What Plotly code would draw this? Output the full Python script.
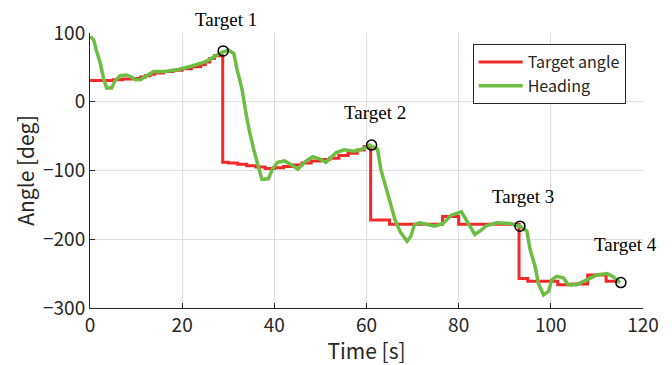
import plotly.graph_objects as go

# ---- data ----
red_t = [0, 5, 7, 9, 11, 12, 13, 14, 16, 18, 20, 22, 24, 25, 26, 27, 28.8, 30, 32, 34, 36, 38, 40,
         42, 44, 46, 48, 50, 52, 54, 56, 58, 59.5, 60.9, 65, 76.5, 80, 93.1, 95, 101.5, 104.5,
         108, 112, 115]
red_v = [31, 32, 33, 34, 36, 38, 40, 42, 44, 46, 48, 51, 54, 58, 63, 67, -88, -89, -91, -93, -95,
         -97, -96, -94, -92, -89, -86, -84, -82, -78, -75, -70, -65, -172, -178, -167, -178,
         -257, -261, -266, -265, -252, -261, -261]

green_t = [0, 0.8, 1.4, 2.2, 2.9, 3.6, 4.7, 5.4, 6.5, 7.9, 9, 9.8, 10.9, 12.3, 13.8, 16.3, 19.2,
           22.1, 25, 27.1, 28.6, 30.1, 31.2, 31.9, 33, 33.7, 34.5, 35.5, 36.6, 37.3, 38.7, 39.6,
           40.7, 42.2, 43.3, 45.1, 46.5, 48.3, 49.8, 51.2, 53.4, 55.2, 57.3, 59.5, 60.6, 62.4,
           63.1, 64.4, 65.1, 66.2, 67.3, 68.8, 69.6, 70.4, 71.5, 73, 74.8, 76.6, 78.4, 80.6,
           81.7, 83.5, 84.6, 86.1, 88.3, 91.1, 93.3, 94.8, 95.5, 96.6, 97.3, 98.4, 99.5, 100.2,
           101.3, 102.7, 103.8, 105.6, 107.8, 110, 112.2, 113.6, 115]
green_v = [95, 90, 74, 57, 35, 20, 20, 30, 38, 39, 36, 32, 32, 38, 44, 44, 47, 52, 58, 66, 72, 75,
           70, 47, 18, -11, -40, -69, -98, -113, -112, -98, -88, -86, -90, -98, -88, -80, -83,
           -88, -74, -70, -72, -68, -63, -69, -98, -128, -145, -172, -189, -203, -196, -179,
           -176, -178, -181, -177, -165, -160, -172, -193, -188, -180, -176, -177, -181, -188,
           -215, -240, -264, -281, -276, -259, -254, -256, -266, -266, -259, -252, -250, -255,
           -263]

target_t = [28.9, 61.1, 93.3, 115.2]
target_v = [74, -63, -181, -263]
target_labels = ["Target 1", "Target 2", "Target 3", "Target 4"]
label_t = [29.5, 61.8, 94.0, 116.2]
label_v = [119, -15, -138, -208]

x_ticks = [0, 20, 40, 60, 80, 100, 120]
y_ticks = [100, 0, -100, -200, -300]
y_ticktext = ["100", "0", "\u2212100", "\u2212200", "\u2212300"]
Y_MIN, Y_MAX = -300, 100

TXT = "#262626"
FONT = "Noto Sans CJK JP"

fig = go.Figure()
fig.add_trace(go.Scatter(x=red_t, y=red_v, mode="lines", line=dict(color="#f02a2a", width=3, shape="hv"),
                         name="Target angle"))
fig.add_trace(go.Scatter(x=green_t, y=green_v, mode="lines", line=dict(color="#6cbd42", width=3.5),
                         name="Heading"))
fig.add_trace(go.Scatter(x=target_t, y=target_v, mode="markers", showlegend=False, cliponaxis=False,
                         marker=dict(symbol="circle-open", size=10, color="black", line=dict(width=1.5))))

for t, v, s in zip(label_t, label_v, target_labels):
    fig.add_annotation(x=t, xref="x", y=(v - Y_MIN) / (Y_MAX - Y_MIN), yref="paper", text=s,
                       xanchor="center", yanchor="middle",
                       showarrow=False, font=dict(family="Liberation Serif", size=19, color="black"))

fig.update_layout(
    width=672, height=365,
    margin=dict(l=90, r=29, t=33, b=57),
    paper_bgcolor="white", plot_bgcolor="white",
    font=dict(family=FONT, color=TXT, size=17),
    legend=dict(x=0.692, y=0.96, xanchor="left", yanchor="top", bgcolor="white",
                bordercolor=TXT, borderwidth=1, font=dict(size=16, family=FONT, color=TXT),
                tracegroupgap=0, itemwidth=44),
    showlegend=True,
)
fig.update_xaxes(range=[0, 120], tickvals=x_ticks, showgrid=True, gridcolor="#dedede", gridwidth=1,
                 zeroline=False, showline=True, linecolor=TXT, linewidth=1, ticks="inside",
                 ticklen=5, tickcolor=TXT, tickfont=dict(size=19, family=FONT, color=TXT),
                 title=dict(text="Time [s]", font=dict(size=21, family=FONT, color=TXT), standoff=2))
fig.update_yaxes(range=[Y_MIN, Y_MAX], tickvals=y_ticks, ticktext=y_ticktext,
                 showgrid=True, gridcolor="#dedede", gridwidth=1,
                 zeroline=False, showline=True, linecolor=TXT, linewidth=1, ticks="inside",
                 ticklen=5, tickcolor=TXT, tickfont=dict(size=19, family=FONT, color=TXT),
                 title=dict(text="Angle [deg]", font=dict(size=21, family=FONT, color=TXT), standoff=2))

fig.write_html("out.html")
